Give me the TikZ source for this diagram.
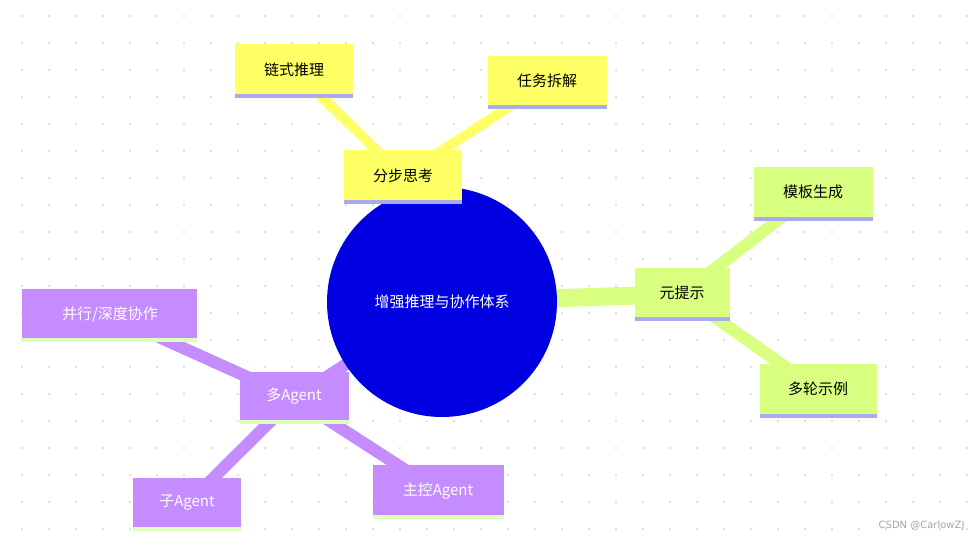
\documentclass[tikz,border=0pt]{standalone}
\usepackage{fontspec}
\newfontfamily\cjk{Noto Sans CJK SC}
\definecolor{yel}{HTML}{FFFF66}
\definecolor{grn}{HTML}{D9FF80}
\definecolor{pur}{HTML}{C58CFF}
\definecolor{lav}{HTML}{AAAAEE}
\definecolor{lgr}{HTML}{DDFFBB}
\definecolor{ctr}{HTML}{0000E0}
\begin{document}
\begin{tikzpicture}[x=1pt,y=-1pt,
  box/.style={minimum height=50pt,inner sep=0pt,font=\cjk\fontsize{15}{18}\selectfont},
  ybox/.style={box,fill=yel,text=black},
  gbox/.style={box,fill=grn,text=black},
  pbox/.style={box,fill=pur,text=white},
  link/.style={line width=14pt},
]
\useasboundingbox (0,0) rectangle (973,546);
\fill[white] (0,0) rectangle (973,546);
\foreach \i in {0,...,35}{\foreach \j in {0,...,19}{
  \fill[black!12] (22+27*\i-1,16+27*\j-1) rectangle ++(2,2);}}
% connectors
\coordinate (c) at (442,302);
\draw[link,yel,line width=10pt] (294,70) -- (403,176);
\draw[link,yel,line width=10pt] (547,82) -- (403,176);
\draw[link,grn,line width=18pt] (c) -- (682,294);
\draw[link,grn,line width=12pt] (682,294) -- (813,193);
\draw[link,grn,line width=12pt] (682,294) -- (818,390);
\draw[link,pur,line width=12pt] (c) -- (294,398);
\draw[link,pur,line width=12pt] (294,398) -- (110,315);
\draw[link,pur,line width=12pt] (294,398) -- (187,504);
\draw[link,pur,line width=12pt] (294,398) -- (438,491);
% nodes
\node[circle,fill=ctr,minimum size=230pt,inner sep=0pt,text=white,font=\cjk\fontsize{15}{18}\selectfont] (root) at (c) {增强推理与协作体系};
\newcommand\bx[7]{%
  \fill[#7] (#1,#4-3) rectangle (#3,#4);
  \node[#5,minimum width=#3pt-#1pt,minimum height=#4pt-#2pt-3pt,anchor=north west] (#6) at (#1,#2) {};
}
\def\mk#1#2#3#4#5#6#7#8{\fill[#8] (#1,#4-3) rectangle (#3,#4);
  \fill[#6] (#1,#2) rectangle (#3,#4-3);
  \node[#7] (#5) at ({(#1+#3)/2},{(#2+#4-3)/2}) {\cjk\fontsize{15}{18}\selectfont\strut};}
\fill[lav] (344,200) rectangle (462,204); \fill[yel] (344,150) rectangle (462,200);
\node[text=black,font=\cjk\fontsize{15}{18}\selectfont] (a) at (403,176) {分步思考};
\fill[lav] (235,94) rectangle (353,98); \fill[yel] (235,44) rectangle (353,94);
\node[text=black,font=\cjk\fontsize{15}{18}\selectfont] (a1) at (294,70) {链式推理};
\fill[lav] (488,105) rectangle (607,109); \fill[yel] (488,56) rectangle (607,105);
\node[text=black,font=\cjk\fontsize{15}{18}\selectfont] (a2) at (547,81) {任务拆解};
\fill[lav] (635,317) rectangle (730,321); \fill[grn] (635,268) rectangle (730,317);
\node[text=black,font=\cjk\fontsize{15}{18}\selectfont] (b) at (682,293) {元提示};
\fill[lav] (754,217) rectangle (873,221); \fill[grn] (754,167) rectangle (873,217);
\node[text=black,font=\cjk\fontsize{15}{18}\selectfont] (b1) at (813,192) {模板生成};
\fill[lav] (760,414) rectangle (877,418); \fill[grn] (760,364) rectangle (877,414);
\node[text=black,font=\cjk\fontsize{15}{18}\selectfont] (b2) at (818,389) {多轮示例};
\fill[lgr] (240,420) rectangle (349,424); \fill[pur] (240,372) rectangle (349,420);
\node[text=white,font=\cjk\fontsize{15}{18}\selectfont] (d) at (294,396) {多Agent};
\fill[lgr] (22,338) rectangle (197,342); \fill[pur] (22,289) rectangle (197,338);
\node[text=white,font=\cjk\fontsize{15}{18}\selectfont] (d1) at (110,314) {并行/深度协作};
\fill[lgr] (133,527) rectangle (241,531); \fill[pur] (133,478) rectangle (241,527);
\node[text=white,font=\cjk\fontsize{15}{18}\selectfont] (d2) at (187,503) {子Agent};
\fill[lgr] (373,515) rectangle (504,519); \fill[pur] (373,465) rectangle (504,515);
\node[text=white,font=\cjk\fontsize{15}{18}\selectfont] (d3) at (438,491) {主控Agent};
\node[text=black!35,font=\fontspec{DejaVu Sans}\fontsize{10}{12}\selectfont,anchor=east] (wm) at (968,526) {CSDN @CarlowZJ};
\end{tikzpicture}
\end{document}
